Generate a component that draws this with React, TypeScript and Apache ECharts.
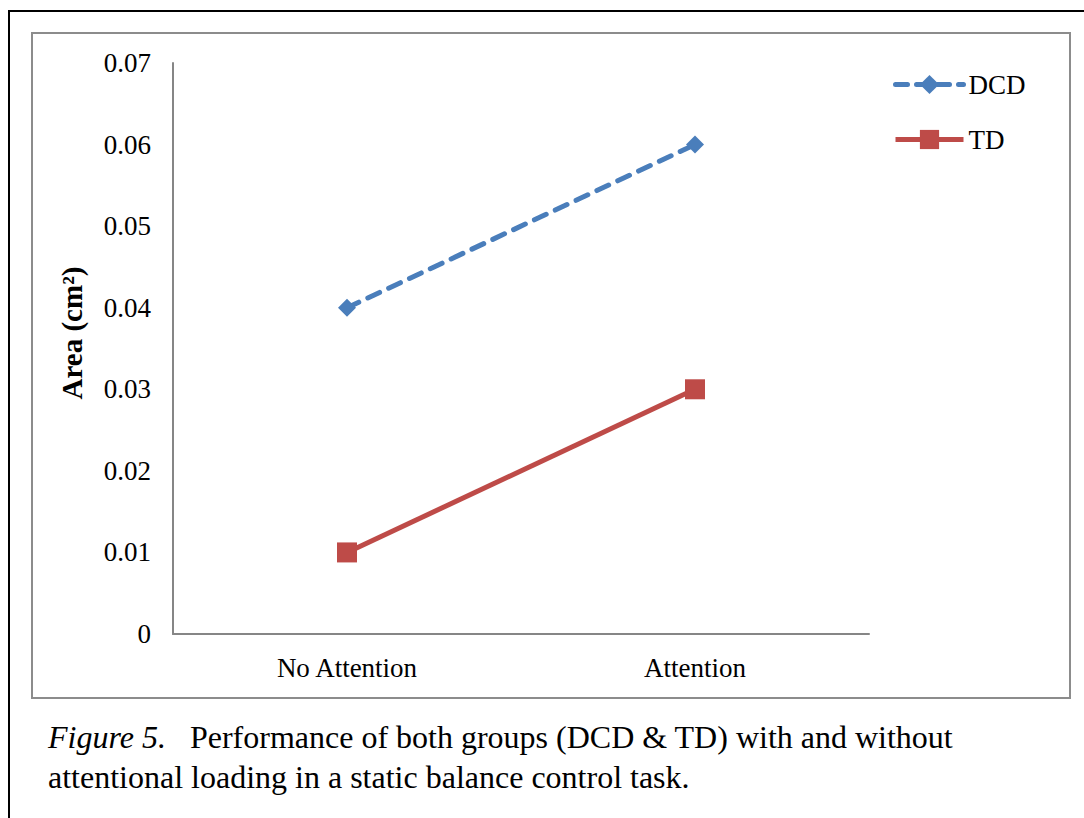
import React, { useEffect, useRef } from "react";
import * as echarts from "echarts";

const categories = ["No Attention", "Attention"];
const dcdValues = [0.04, 0.06];
const tdValues = [0.01, 0.03];
const yTicks = ["0", "0.01", "0.02", "0.03", "0.04", "0.05", "0.06", "0.07"];

const FONT = "'Liberation Serif', 'Times New Roman', serif";
const BLUE = "#4A7EBB";
const RED = "#BE4B48";

export default function App() {
  const ref = useRef<HTMLDivElement>(null);
  useEffect(() => {
    if (!ref.current) return;
    const chart = echarts.init(ref.current, undefined, { renderer: "svg" });
    chart.setOption({
      animation: false,
      backgroundColor: "#ffffff",
      textStyle: { fontFamily: FONT },
      grid: { left: 173, top: 63, right: 215, bottom: 184, containLabel: false },
      legend: {
        orient: "vertical",
        left: 888,
        top: 66,
        itemWidth: 68,
        itemHeight: 24,
        itemGap: 28,
        textStyle: { fontFamily: FONT, fontSize: 27, color: "#000", lineHeight: 24 },
        data: [
          { name: "DCD", lineStyle: { width: 5, type: [12, 9], cap: "round" } },
          { name: "TD", lineStyle: { width: 5 } },
        ],
      },
      xAxis: {
        type: "category",
        data: categories,
        boundaryGap: true,
        axisLine: { lineStyle: { color: "#868686", width: 2 } },
        axisTick: { show: false },
        axisLabel: { fontFamily: FONT, fontSize: 27, color: "#000", margin: 20 },
      },
      yAxis: {
        type: "value",
        min: 0,
        max: 0.07,
        interval: 0.01,
        axisLine: { show: true, lineStyle: { color: "#868686", width: 2 } },
        axisTick: { show: false },
        splitLine: { show: false },
        axisLabel: {
          fontFamily: FONT,
          fontSize: 27,
          color: "#000",
          margin: 22,
          formatter: (v: number) => yTicks[Math.round(v * 100)] ?? "",
        },
      },
      series: [
        {
          name: "DCD",
          type: "line",
          data: dcdValues,
          symbol: "diamond",
          symbolSize: 18,
          itemStyle: { color: BLUE },
          lineStyle: { color: BLUE, width: 5, type: [13, 10], cap: "round" },
        },
        {
          name: "TD",
          type: "line",
          data: tdValues,
          symbol: "rect",
          symbolSize: 20,
          itemStyle: { color: RED },
          lineStyle: { color: RED, width: 5 },
        },
      ],
      graphic: [
        {
          type: "rect",
          shape: { x: 9, y: 11, width: 1200, height: 900 },
          style: { fill: "none", stroke: "#000", lineWidth: 2 },
          silent: true,
        },
        {
          type: "rect",
          shape: { x: 32, y: 33, width: 1038, height: 665 },
          style: { fill: "none", stroke: "#8c8c8c", lineWidth: 2 },
          silent: true,
        },
        {
          type: "text",
          x: 72,
          y: 333,
          rotation: Math.PI / 2,
          style: {
            text: "Area (cm²)",
            font: `bold 29px ${FONT}`,
            fill: "#000",
            align: "center",
            verticalAlign: "middle",
          },
        },
        {
          type: "text",
          x: 48,
          y: 737,
          style: {
            text: "{i|Figure 5.}{n|   Performance of both groups (DCD & TD) with and without}",
            verticalAlign: "middle",
            rich: {
              i: { fontFamily: FONT, fontSize: 32, fontStyle: "italic", fill: "#000" },
              n: { fontFamily: FONT, fontSize: 32, fill: "#000" },
            },
          },
        },
        {
          type: "text",
          x: 48,
          y: 777,
          style: {
            text: "attentional loading in a static balance control task.",
            font: `32px ${FONT}`,
            fill: "#000",
            verticalAlign: "middle",
          },
        },
      ],
    });
    return () => chart.dispose();
  }, []);
  return (
    <div
      ref={ref}
      style={{ position: "fixed", left: 0, top: 0, width: 1084, height: 818, background: "#fff" }}
    />
  );
}
